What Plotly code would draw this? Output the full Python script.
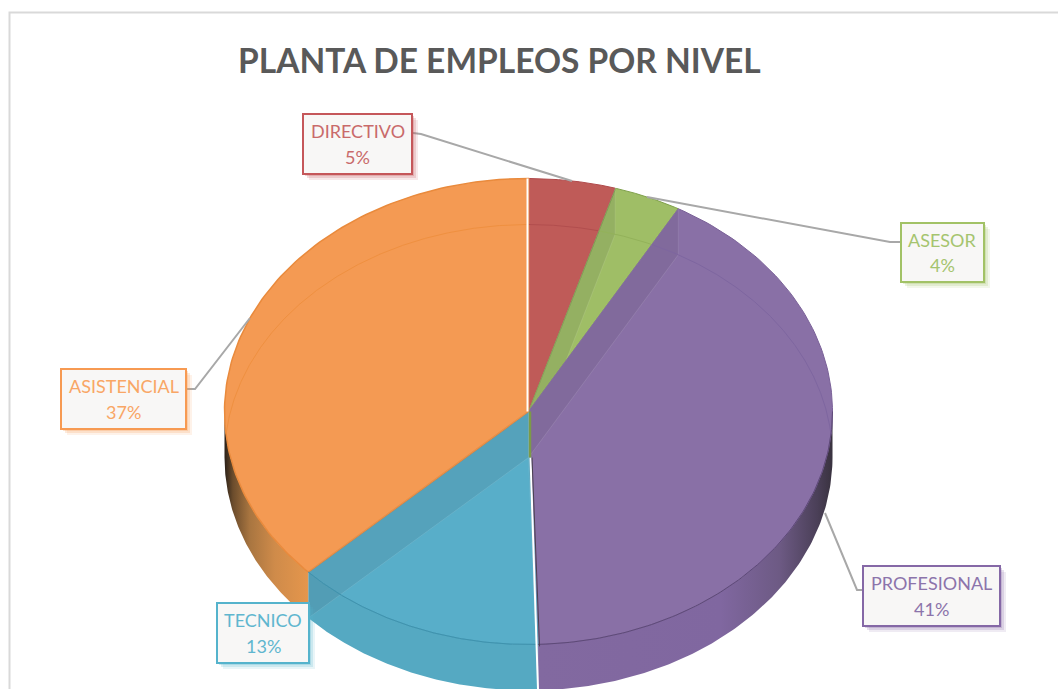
import math
import plotly.graph_objects as go

# ---- data ----
categories = ["DIRECTIVO", "ASESOR", "PROFESIONAL", "TECNICO", "ASISTENCIAL"]
values = [4.6, 3.6, 41.3, 13.4, 37.1]
title_text = "PLANTA DE EMPLEOS POR NIVEL"

# ---- style ----
top_colors = ["#BF5B58", "#9FBE66", "#8970A6", "#58AEC9", "#F49A53"]
edge_colors = ["#B04A4B", "#7FA04A", "#7A6198", "#4B9FBB", "#E98A3C"]
edge_widths = [1, 1, 1, 1, 1.5]
rim_colors = ["#B24E4E", "#93B25A", "#7E66A0", "#3F93AE", "#EF9040"]
text_colors = ["#C96A6A", "#A5C46E", "#8C74AB", "#5FB6CF", "#F9A665"]
border_colors = ["#C5575A", "#A2C266", "#8568A6", "#55B3CC", "#F79A52"]

# ---- layout of the drawing (pixels of the 1058x689 page) ----
W, H = 1058, 689
CX, CY, RX, RY, DEPTH = 528.5, 411.5, 304, 233, 46
boxes = {
    "DIRECTIVO": (303, 114, 412, 174),
    "ASESOR": (901, 223, 984, 282),
    "PROFESIONAL": (863, 566, 1000, 626),
    "TECNICO": (217, 603, 309, 663),
    "ASISTENCIAL": (61, 369, 186, 429),
}
leaders = {
    "DIRECTIVO": ([413, 421, 572], [133, 134, 181]),
    "ASESOR": ([647, 890, 901], [197, 242, 242]),
    "PROFESIONAL": ([825, 857, 863], [513, 590, 590]),
    "ASISTENCIAL": ([186, 195, 250], [389, 389, 318]),
}


def pt(pct, dy=0.0):
    a = 2 * math.pi * pct / 100
    return CX + RX * math.sin(a), CY + dy - RY * math.cos(a)


def arc(p0, p1, dy=0.0, n=120):
    pts = [pt(p0 + (p1 - p0) * i / n, dy) for i in range(n + 1)]
    return [p[0] for p in pts], [p[1] for p in pts]


cum = [0.0]
for v in values:
    cum.append(cum[-1] + v)

fig = go.Figure()


def poly(xs, ys, fill=None, line=None, width=0, gradient=None):
    kw = dict(x=xs, y=ys, mode="lines", hoverinfo="skip", showlegend=False,
              line=dict(color=line or "rgba(0,0,0,0)", width=width))
    if fill is not None or gradient is not None:
        kw["fill"] = "toself"
        if gradient is not None:
            kw["fillgradient"] = gradient
        else:
            kw["fillcolor"] = fill
    fig.add_trace(go.Scatter(**kw))


def wall(p0, p1, fill=None, gradient=None):
    x1, y1 = arc(p0, p1)
    x2, y2 = arc(p1, p0, DEPTH)
    poly(x1 + x2 + [x1[0]], y1 + y2 + [y1[0]], fill=fill, gradient=gradient)


# side walls (only the front half of the disc shows)
wall(25, cum[3], gradient=dict(type="horizontal", colorscale=[
    [0, "#8269A0"], [0.62, "#8067A0"], [0.82, "#6D5A84"], [0.95, "#4A3F57"], [1, "#39323F"]]))
wall(cum[3], cum[4], fill="#55A9C2")
wall(cum[4], 75, gradient=dict(type="horizontal", colorscale=[
    [0, "#2A2018"], [0.1, "#6B4C2C"], [0.3, "#A87540"], [0.6, "#CF8B4A"], [1, "#E5964C"]]))

# top faces and the inner walls seen through them
for i, c in enumerate(categories):
    xa, ya = arc(cum[i], cum[i + 1])
    poly([CX] + xa + [CX], [CY] + ya + [CY], fill=top_colors[i], line=edge_colors[i], width=edge_widths[i])
    bx, by = pt(cum[i])
    poly([CX, CX, bx, bx, CX], [CY, CY + DEPTH, by + DEPTH, by, CY],
         fill="rgba(55,60,70,0.10)", line="rgba(255,255,255,0.10)", width=1)

# the bottom rim seen through the translucent top
rim_x = [[] for _ in values]
rim_y = [[] for _ in values]
prev = None
for k in range(1441):
    x, y = pt(k / 14.4, DEPTH)
    u, w = (x - CX) / RX, (y - CY) / RY
    slice_i = None
    if u * u + w * w < 1:
        pct = (math.degrees(math.atan2(u, -w)) % 360) / 3.6
        for i in range(len(values)):
            if cum[i] <= pct <= cum[i + 1]:
                slice_i = i
    if prev is not None and prev != slice_i:
        rim_x[prev].append(None)
        rim_y[prev].append(None)
    if slice_i is not None:
        rim_x[slice_i].append(x)
        rim_y[slice_i].append(y)
    prev = slice_i
for i in range(len(values)):
    poly(rim_x[i], rim_y[i], line=rim_colors[i], width=1)

# front rim of the top face
for p0, p1, col in [(25, cum[3], "#5E4A78"), (cum[3], cum[4], "#3F93AE")]:
    xs, ys = arc(p0, p1)
    poly(xs, ys, line=col, width=1)

# seams
sx, sy = pt(cum[0])
poly([CX - 1, sx - 1], [CY, sy], line="#FFFFFF", width=2)
sx, sy = pt(cum[3], DEPTH)
poly([CX + 2, sx], [CY + DEPTH, sy], line="#FFFFFF", width=2)
poly([CX + 3.5, sx + 1.5], [CY + DEPTH, sy - 44], line="#4A4050", width=1)
poly([CX + 1.5, CX + 1.5], [CY, CY + DEPTH], line="#7C9A48", width=2.5)

# leader lines
for c, (lx, ly) in leaders.items():
    poly(lx, ly, line="#A8A8A8", width=2)

# frame, label boxes, shadows
shapes = [dict(type="rect", x0=9.5, y0=12.5, x1=1070, y1=705,
               line=dict(color="#D9D9D9", width=2), fillcolor="rgba(0,0,0,0)", layer="below")]
annotations = [dict(x=499, y=60, xref="x", yref="y", text=f"<b>{title_text}</b>", showarrow=False,
                    font=dict(family="Lato", size=33.5, color="#595959"))]
for i, c in enumerate(categories):
    x0, y0, x1, y1 = boxes[c]
    for off, alpha in [(6, 0.13), (4, 0.2), (2, 0.27)]:
        shapes.append(dict(type="rect", x0=x0 + off, y0=y0 + off, x1=x1 + off, y1=y1 + off,
                           line=dict(width=0), fillcolor=border_colors[i], opacity=alpha, layer="above"))
    shapes.append(dict(type="rect", x0=x0, y0=y0, x1=x1, y1=y1,
                       line=dict(color=border_colors[i], width=2), fillcolor="#F8F7F6", layer="above"))
    for txt, dy in [(c, -13), (f"{round(values[i])}%", 12.5)]:
        annotations.append(dict(x=(x0 + x1) / 2, y=(y0 + y1) / 2 + dy, xref="x", yref="y",
                                text=txt, showarrow=False,
                                font=dict(family="Lato", size=18, color=text_colors[i])))

fig.update_layout(
    width=W, height=H, margin=dict(l=0, r=0, t=0, b=0),
    paper_bgcolor="#FFFFFF", plot_bgcolor="#FFFFFF", showlegend=False,
    xaxis=dict(range=[0, W], visible=False, fixedrange=True),
    yaxis=dict(range=[H, 0], visible=False, fixedrange=True),
    shapes=shapes, annotations=annotations,
)
fig.write_html("out.html", config={"displayModeBar": False},
               post_script="document.body.style.margin='0';document.body.style.overflow='hidden';")
